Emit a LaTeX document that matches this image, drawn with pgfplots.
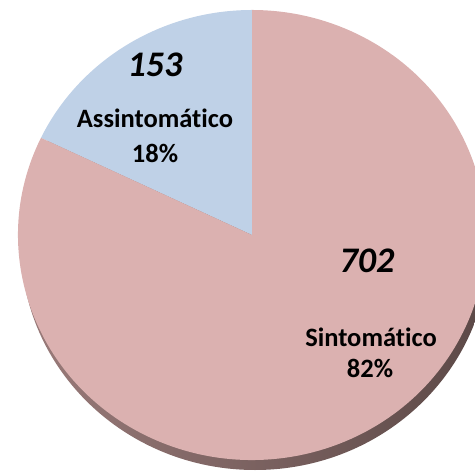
\documentclass[border=0pt]{standalone}
\usepackage{pgfplots}
\pgfplotsset{compat=1.18}
\usepackage{fontspec}
\setmainfont{Carlito}[Ligatures=NoCommon]

\definecolor{sintcol}{HTML}{DBB1B0}
\definecolor{assincol}{HTML}{BFD1E7}
\definecolor{shadowdark}{HTML}{5B4846}
\definecolor{shadowlight}{HTML}{9A7B7A}

\tikzset{
    lbl/.style={font=\fontsize{26.5bp}{30bp}\selectfont\bfseries, anchor=base},
    num/.style={font=\fontsize{36bp}{40bp}\selectfont\bfseries\itshape, anchor=base},
}

% values of the two slices
\def\valSint{702}
\def\valAssin{153}

\begin{document}
\begin{tikzpicture}
\pgfmathsetmacro{\total}{\valSint+\valAssin}
\pgfmathsetmacro{\angA}{90+360*(\valAssin/\total)}
\begin{axis}[
    x=1bp, y=1bp,
    xmin=0, xmax=475, ymin=0, ymax=472,
    hide axis, clip=true,
]
\path (0,0) rectangle (475,472);
% shadow
\shade[left color=shadowlight, right color=shadowdark]
    (255,227) ellipse[x radius=234bp, y radius=225bp];
% slices
\fill[assincol] (252,237) -- (252,462)
    arc[start angle=90, end angle=\angA, x radius=234bp, y radius=225bp] -- cycle;
\fill[sintcol] (252,237) -- ({252+234*cos(\angA)},{237+225*sin(\angA)})
    arc[start angle=\angA, end angle=450, x radius=234bp, y radius=225bp] -- cycle;
% labels
\node[num] at (155,395) {153};
\node[lbl] at (155,344) {Assintomático};
\node[lbl] at (155,309) {18\%};
\node[num] at (367,199) {702};
\node[lbl] at (371,125) {Sintomático};
\node[lbl] at (370,94) {82\%};
\end{axis}
\end{tikzpicture}
\end{document}
